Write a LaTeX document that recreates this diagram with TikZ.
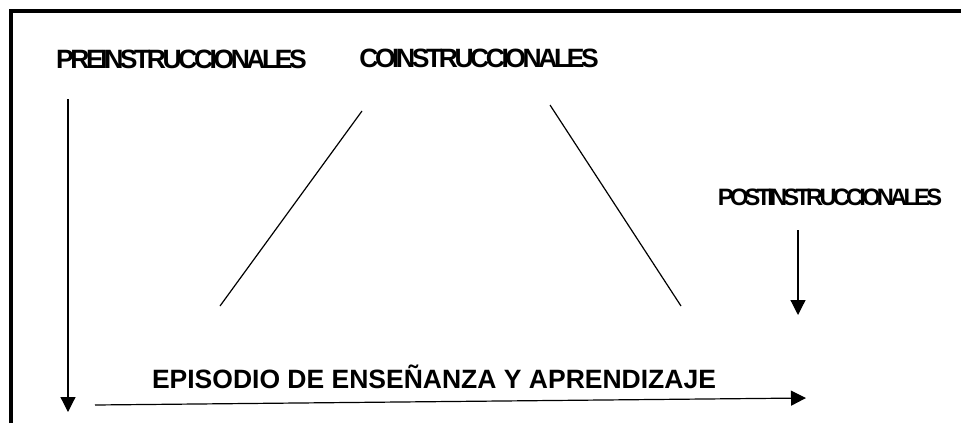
\documentclass[tikz,border=0pt]{standalone}
\usepackage{fontspec}
\setmainfont{Liberation Sans}
\usetikzlibrary{arrows.meta, positioning}

\begin{document}
\begin{tikzpicture}[x=1pt, y=-1pt]
  % --- Styles ---
  \tikzset{
    frame line/.style={line width=3.6pt, line join=miter},
    phase label/.style={inner sep=0pt, anchor=base,
      font=\fontsize{26.5}{30}\selectfont\bfseries\addfontfeature{LetterSpace=-13}},
    post label/.style={phase label,
      font=\fontsize{23.7}{28}\selectfont\bfseries\addfontfeature{LetterSpace=-16}},
    episode label/.style={inner sep=0pt, anchor=base,
      font=\fontsize{26.5}{30}\selectfont\bfseries},
    thin line/.style={line width=1.2pt},
    flow arrow/.style={thin line, -{Triangle[width=15pt, length=15pt]}}
  }

  \useasboundingbox (0,0) rectangle (961,423);

  % --- Frame (open to the right and bottom) ---
  \draw[frame line] (10.7,423) -- (10.7,10.8) -- (961,10.8);

  % --- Labels ---
  \node[phase label] (pre) at (181.5,68) {PREINSTRUCCIONALES};
  \node[phase label] (co) at (479,67) {COINSTRUCCIONALES};
  \node[post label] (post) at (830,205) {POSTINSTRUCCIONALES};
  \node[episode label] (episode) at (434,388) {EPISODIO DE ENSEÑANZA Y APRENDIZAJE};

  % --- End points of the connectors ---
  \coordinate (preTop) at (68,99);
  \coordinate (preEnd) at (68,412);
  \coordinate (coLeftTop) at (362,111);
  \coordinate (coLeftEnd) at (220,306);
  \coordinate (coRightTop) at (550,105);
  \coordinate (coRightEnd) at (681,306);
  \coordinate (postTop) at (798,230);
  \coordinate (postEnd) at (798,315);
  \coordinate (episodeStart) at (95,405);
  \coordinate (episodeEnd) at (806,398);

  % --- Connectors ---
  \draw[flow arrow] (preTop) -- (preEnd);
  \draw[thin line] (coLeftTop) -- (coLeftEnd);
  \draw[thin line] (coRightTop) -- (coRightEnd);
  \draw[flow arrow] (postTop) -- (postEnd);
  \draw[flow arrow] (episodeStart) -- (episodeEnd);

\end{tikzpicture}
\end{document}
